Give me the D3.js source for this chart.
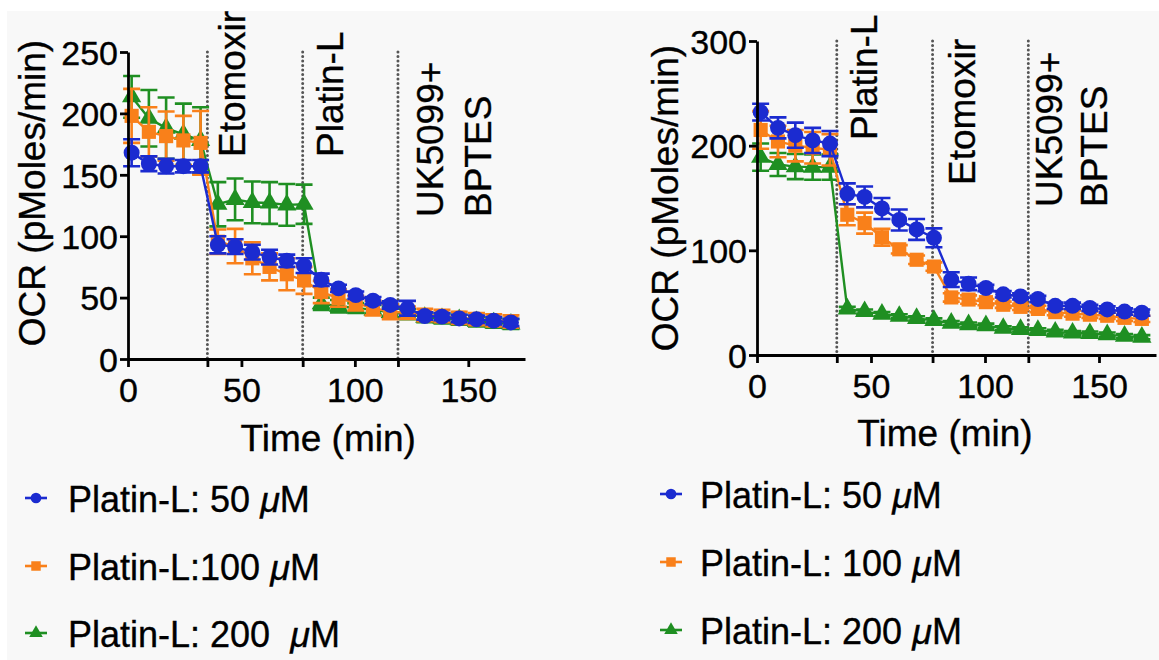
<!DOCTYPE html>
<html>
<head>
<meta charset="utf-8">
<script src="https://cdn.jsdelivr.net/npm/d3@7"></script>
<style>
  body { margin: 0; background: #fff; }
  text { font-family: "Liberation Sans", Arial, sans-serif; stroke: #000; stroke-width: 0.35px; }
</style>
</head>
<body>
<div id="chart"></div>
<script>
// measurement times (min), same protocol for both panels
const times = [1.6, 9.2, 16.8, 24.4, 32.0, 39.6, 47.2, 54.8, 62.4, 70.0, 77.6, 85.2,
               92.8, 100.4, 108.0, 115.6, 123.2, 130.8, 138.4, 146.0, 153.6, 161.2, 168.8];
const injections = [35, 77, 119];
const xTicks = [0, 50, 100, 150];

// left panel
const leftInjLabels = [["Etomoxir"], ["Platin-L"], ["UK5099+", "BPTES"]];
const leftYTicks = [0, 50, 100, 150, 200, 250];
const blueL = [168, 159, 157, 157, 157, 93, 91.5, 87, 83, 80, 76, 64.5, 57.5, 52, 47.5, 44, 41.3, 35, 34.5, 33, 32.3, 31.2, 29.8];
const blueLErr = [11, 6, 6, 5, 5, 7, 6, 6, 6, 5, 6, 5, 3, 3, 3, 3, 6, 3, 3, 3, 3, 3, 3];
const orangeL = [198, 185, 181.5, 178, 176, 95.5, 92, 82, 75, 69, 64, 54.5, 49.5, 45.5, 41.5, 38.5, 37.7, 35.8, 35, 33.5, 32.5, 31.5, 30.5];
const orangeLErr = [22, 20, 20, 20, 26, 10, 14, 13, 11, 13, 11, 9, 7, 6, 6, 6, 5, 5, 5, 5, 5, 5, 5];
const greenL = [213.5, 196, 188, 183, 178, 126, 130, 127.5, 127, 125.5, 126, 45, 43, 41.5, 40, 38, 36.5, 34, 33, 32, 30.5, 29.5, 28.5];
const greenLErr = [17, 23, 25, 25, 27, 18, 17, 17, 17, 17, 16, 5, 5, 4, 4, 4, 4, 4, 4, 4, 4, 4, 4];
const leftLegend = ["Platin-L: 50 ", "Platin-L:100 ", "Platin-L: 200  "];

// right panel
const rightInjLabels = [["Platin-L"], ["Etomoxir"], ["UK5099+", "BPTES"]];
const rightYTicks = [0, 100, 200, 300];
const blueR = [232, 217, 210, 205, 202, 154, 151, 140, 129, 120, 112, 72, 68, 64, 58, 56, 53.5, 47, 47, 45, 43.5, 41.5, 40.5];
const blueRErr = [8, 10, 12, 12, 12, 10, 10, 10, 10, 10, 9, 7, 6, 3, 3, 3, 3, 3, 3, 3, 3, 3, 3];
const orangeR = [215, 204, 200, 198, 196, 134, 126, 112.5, 101, 91, 84.5, 55, 53, 50.5, 48, 46, 44, 41, 39.5, 38.5, 37.5, 35.5, 34.5];
const orangeRErr = [18, 15, 15, 15, 15, 10, 10, 8, 4, 4, 4, 4, 4, 3, 3, 3, 3, 3, 3, 3, 3, 3, 3];
const greenR = [189, 182, 180, 179.5, 179.5, 44, 41.5, 39, 37, 35, 33, 30.5, 29, 28, 25.5, 24.5, 23.5, 22, 21, 20.5, 19.5, 18, 17];
const greenRErr = [13, 11, 12, 12, 12, 2, 2, 2, 2, 2, 2, 2, 2, 2, 2, 2, 2, 2, 2, 2, 2, 2, 2];
const rightLegend = ["Platin-L: 50 ", "Platin-L: 100 ", "Platin-L: 200 "];

const colors = {blue: "#1b2bd0", orange: "#f9801a", green: "#1f8f22"};
const symbols = {blue: d3.symbolCircle, orange: d3.symbolSquare, green: d3.symbolTriangle};

const width = 1159, height = 660;
const svg = d3.select("#chart").append("svg").attr("width", width).attr("height", height);
svg.append("rect").attr("x", 7).attr("y", 11).attr("width", width - 7).attr("height", height - 11).attr("fill", "#f8f8f8");

drawPanel = (p) => {
    let x = d3.scaleLinear().domain([0, 175]).range(p.xr);
    let y = d3.scaleLinear().domain(p.yd).range(p.yr);
    let g = svg.append("g");

    // injection markers
    injections.forEach((t, i) => {
        g.append("line").attr("x1", x(t)).attr("x2", x(t)).attr("y1", p.yr[1]).attr("y2", p.yr[0])
            .attr("stroke", "#555").attr("stroke-width", 3).attr("stroke-linecap", "round")
            .attr("stroke-dasharray", "0.1,4.4");
        p.injLabels[i].forEach((s, k) => {
            g.append("text").attr("transform", "translate(" + (x(t) + p.labDx[i][k]) + "," + p.labBottom[i] + ") rotate(-90)")
                .attr("font-size", 37).attr("fill", "#000").text(s);
        });
    });

    // series: green under orange under blue
    p.series.forEach(s => {
        let c = colors[s.key];
        let sg = g.append("g");
        sg.selectAll(".eb").data(s.vals).enter().append("path")
            .attr("d", (d, i) => {
                let xx = x(times[i]), y1 = y(d + s.err[i]), y2 = y(d - s.err[i]);
                return "M" + (xx - 8.5) + "," + y1 + "H" + (xx + 8.5) + "M" + xx + "," + y1 + "V" + y2 + "M" + (xx - 8.5) + "," + y2 + "H" + (xx + 8.5);
            })
            .attr("stroke", c).attr("stroke-width", 2.6).attr("fill", "none");
        sg.append("path").datum(s.vals)
            .attr("d", d3.line().x((d, i) => x(times[i])).y(d => y(d)))
            .attr("stroke", c).attr("stroke-width", 2.4).attr("fill", "none");
        sg.selectAll(".pt").data(s.vals).enter().append("path")
            .attr("d", d3.symbol().type(symbols[s.key]).size(s.key == "green" ? 160 : 200))
            .attr("transform", (d, i) => "translate(" + x(times[i]) + "," + y(d) + ")")
            .attr("fill", c);
    });

    // axes
    let ax = g.append("g").attr("transform", "translate(0," + p.yr[0] + ")")
        .call(d3.axisBottom(x).tickValues(xTicks).tickSize(8).tickPadding(6).tickSizeOuter(0));
    g.append("g").attr("transform", "translate(0," + p.yr[0] + ")")
        .call(d3.axisBottom(x).tickValues(injections).tickSize(8).tickFormat("").tickSizeOuter(0))
        .select(".domain").remove();
    let ay = g.append("g").attr("transform", "translate(" + p.xr[0] + ",0)")
        .call(d3.axisLeft(y).tickValues(p.yTicks).tickSize(8).tickPadding(2).tickSizeOuter(0));
    g.selectAll(".domain, .tick line").attr("stroke", "#000").attr("stroke-width", 2.8);
    g.selectAll(".tick text").attr("font-size", 34).attr("fill", "#000")
        .style("font-family", "'Liberation Sans', Arial, sans-serif");
    ax.selectAll(".tick text").attr("dy", "0.85em");
    ay.selectAll(".tick text").attr("dy", "0.36em");

    // axis titles
    g.append("text").attr("x", (p.xr[0] + x(150)) / 2 + p.xtDx).attr("y", p.xtY).attr("text-anchor", "middle")
        .attr("font-size", 37).text("Time (min)");
    g.append("text").attr("transform", "translate(" + p.ytX + "," + p.ytY + ") rotate(-90)").attr("text-anchor", "middle")
        .attr("font-size", 37).text("OCR (pMoles/min)");

    // legend
    p.series.slice().reverse().forEach((s, i) => {
        let c = colors[s.key];
        let ly = p.legY[i];
        g.append("line").attr("x1", p.legX - 11).attr("x2", p.legX + 11).attr("y1", ly).attr("y2", ly)
            .attr("stroke", c).attr("stroke-width", 2.6);
        g.append("path").attr("d", d3.symbol().type(symbols[s.key]).size(s.key == "green" ? 80 : 90))
            .attr("transform", "translate(" + p.legX + "," + ly + ")").attr("fill", c);
        let t = g.append("text").attr("x", p.legX + p.legTx).attr("y", ly + 14).attr("font-size", 36)
            .attr("xml:space", "preserve").style("white-space", "pre");
        t.append("tspan").text(p.legend[i]);
        t.append("tspan").attr("font-style", "italic").text("\u03bc");
        t.append("tspan").text("M");
    });
}

drawPanel({
    xr: [128, 525], yd: [0, 250], yr: [359, 52], yTicks: leftYTicks,
    injLabels: leftInjLabels, labDx: [[38], [40], [45, 93]], labBottom: [157, 157, 217],
    series: [{key: "green", vals: greenL, err: greenLErr}, {key: "orange", vals: orangeL, err: orangeLErr}, {key: "blue", vals: blueL, err: blueLErr}],
    xtDx: 30, xtY: 451, ytX: 45, ytY: 193,
    legend: leftLegend, legX: 36, legTx: 32, legY: [498, 566, 633]
});
drawPanel({
    xr: [757, 1156], yd: [0, 300], yr: [355, 41], yTicks: rightYTicks,
    injLabels: rightInjLabels, labDx: [[40], [42], [34, 79]], labBottom: [140, 185, 207],
    series: [{key: "green", vals: greenR, err: greenRErr}, {key: "orange", vals: orangeR, err: orangeRErr}, {key: "blue", vals: blueR, err: blueRErr}],
    xtDx: 17, xtY: 446, ytX: 678, ytY: 198,
    legend: rightLegend, legX: 671, legTx: 29, legY: [494, 562, 630]
});
</script>
</body>
</html>
